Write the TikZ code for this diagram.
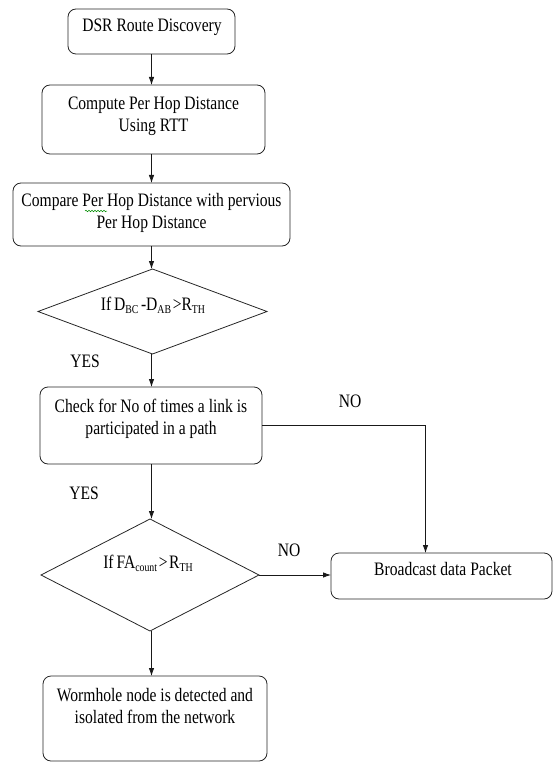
\documentclass[tikz,border=0pt]{standalone}
\usepackage{fontspec}
\setmainfont{Liberation Serif}
\usetikzlibrary{shapes.geometric,arrows.meta,decorations.pathmorphing}
\newcommand\squeezed[1]{\scalebox{0.82}[1]{\begin{tabular}{@{}c@{}}#1\end{tabular}}}
\newcommand\lowsub[1]{\raisebox{-3.5pt}{\fontsize{12}{12}\selectfont #1}}
\begin{document}
\begin{tikzpicture}[x=1pt,y=-1pt,
  box/.style={draw=black!85,line width=0.8pt,rounded corners=8pt,inner sep=0pt,outer sep=0pt},
  dia/.style={draw=black!85,line width=0.8pt,diamond,inner sep=0pt,outer sep=0pt},
  txt/.style={font=\fontsize{19}{22}\selectfont,inner sep=0pt},
  arr/.style={line width=0.8pt,draw=black!90,-{Latex[length=8pt,width=5.5pt]}},
  lbl/.style={font=\fontsize{19}{22}\selectfont,inner sep=0pt}]
\useasboundingbox (0,0) rectangle (553,762);
% shapes
\node[box,minimum width=167pt,minimum height=45pt] (b1) at (151.5,31.5) {};
\node[box,minimum width=223pt,minimum height=69pt] (b2) at (153.5,119.5) {};
\node[box,minimum width=277pt,minimum height=63pt] (b3) at (151.5,214.5) {};
\node[dia,minimum width=229pt,minimum height=85pt] (d1) at (152.5,311.5) {};
\node[box,minimum width=222pt,minimum height=77pt] (b4) at (151,425.5) {};
\node[dia,minimum width=218pt,minimum height=112pt] (d2) at (150,575) {};
\node[box,minimum width=221pt,minimum height=46pt] (b5) at (441.5,576) {};
\node[box,minimum width=224pt,minimum height=85pt] (b6) at (155,718.5) {};
% texts
\node[txt] (t1) at (152,27) {\squeezed{DSR Route Discovery}};
\node[txt] (t2) at (153.5,116) {\squeezed{Compute Per Hop Distance\\Using RTT}};
\node[txt] (t3) at (151.5,213) {\squeezed{Compare Per Hop Distance with pervious\\Per Hop Distance}};
\node[txt] (t4) at (153,306) {\squeezed{If\hspace{3.5pt}D\lowsub{BC}\hspace{3pt}-D\lowsub{AB}\hspace{2pt}>R\lowsub{TH}}};
\node[txt] (t5) at (151,419) {\squeezed{Check for No of times a link is\\participated in a path}};
\node[txt] (t6) at (148,564) {\squeezed{If\hspace{3.5pt}FA\lowsub{count}\hspace{2pt}>\hspace{2pt}R\lowsub{TH}}};
\node[txt] (t7) at (443,571) {\squeezed{Broadcast data Packet}};
\node[txt] (t8) at (155,708.5) {\squeezed{Wormhole node is detected and\\isolated from the network}};
% spell-check squiggle
\draw[green!55!black,line width=0.5pt,decorate,decoration={snake,amplitude=0.8pt,segment length=3pt}] (85,211) -- (107,211);
% labels
\node[lbl] (y1) at (85,363) {\squeezed{YES}};
\node[lbl] (n1) at (350,403) {\squeezed{NO}};
\node[lbl] (y2) at (84,495) {\squeezed{YES}};
\node[lbl] (n2) at (289,552) {\squeezed{NO}};
% connectors
\draw[arr] (b1.south) -- (b1.south |- b2.north);
\draw[arr] (b1.south |- b2.south) -- (b1.south |- b3.north);
\draw[arr] (b1.south |- b3.south) -- (b1.south |- d1.north);
\draw[arr] (b1.south |- d1.south) -- (b1.south |- b4.north);
\draw[arr] (b1.south |- b4.south) -- (b1.south |- d2.north);
\draw[arr] (b1.south |- d2.south) -- (b1.south |- b6.north);
\draw[arr] (b4.east) -| ([xshift=-16pt]b5.north);
\draw[arr] (d2.east) -- (d2.east -| b5.west);
\end{tikzpicture}
\end{document}
